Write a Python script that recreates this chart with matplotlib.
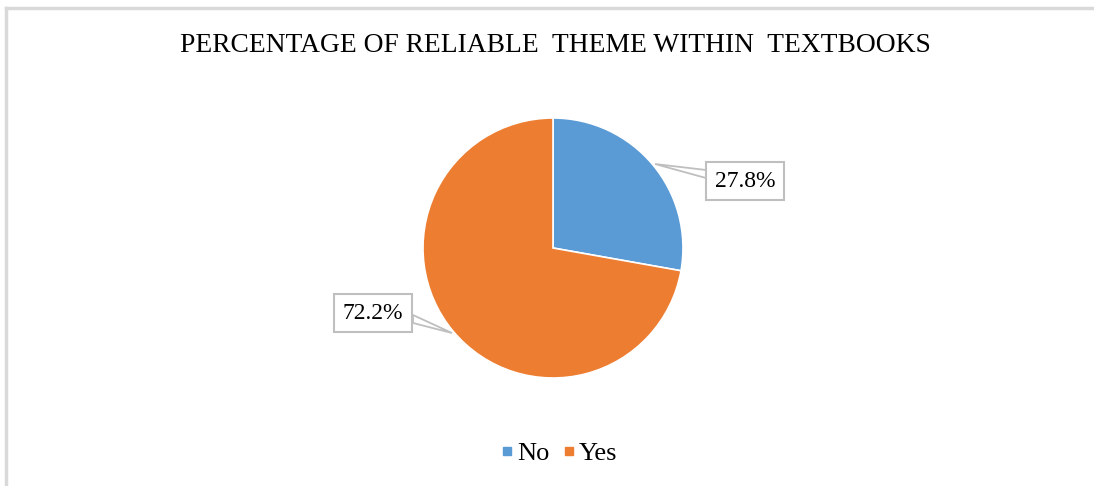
import matplotlib
matplotlib.use('Agg')
import matplotlib.pyplot as plt
from matplotlib.lines import Line2D
from matplotlib.patches import Polygon

labels = ['No', 'Yes']
values = [27.8, 72.2]
colors = ['#5B9BD5', '#ED7D31']
pct_text = ['27.8%', '72.2%']
title = 'PERCENTAGE OF RELIABLE  THEME WITHIN  TEXTBOOKS'

plt.rcParams['font.family'] = ['Liberation Serif', 'DejaVu Serif']

W, H = 1094, 486
fig = plt.figure(figsize=(W / 100, H / 100), dpi=100)

# outer chart frame (cut at right and bottom like the screenshot)
fig.add_artist(Line2D([6 / W, 6 / W], [0, 1 - 8 / H], color='#d9d9d9', lw=2.5))
fig.add_artist(Line2D([6 / W, 1], [1 - 8 / H, 1 - 8 / H], color='#d9d9d9', lw=2.5))

fig.text(555 / W, 1 - 45 / H, title, ha='center', va='center', fontsize=19.8)

# pie axes: radius 1 -> 130 px
cx, cy, r = 553, 248, 130
half = 200
ax = fig.add_axes([(cx - half) / W, (H - cy - half) / H, 2 * half / W, 2 * half / H])

wedges, _ = ax.pie(values, colors=colors, startangle=90, counterclock=False,
                   wedgeprops=dict(edgecolor='white', linewidth=1.2))
ax.set_xlim(-half / r, half / r)
ax.set_ylim(-half / r, half / r)
ax.axis('off')

# label boxes with callouts (pixel positions of box centres / callout points)
box_pos = [(745, 181), (373, 313)]
anchor = [(655, 164), (452, 333)]
callout_base = [[(706, 170), (706, 178)], [(413, 315), (413, 323)]]


def to_data(px, py):
    return ((px - cx) / r, (cy - py) / r)


for i in range(len(values)):
    pts = [to_data(*anchor[i])] + [to_data(*p) for p in callout_base[i]]
    ax.add_patch(Polygon(pts, closed=True, fc='white', ec='#bfbfbf', lw=1.3,
                         zorder=3, clip_on=False))
    bx, by = to_data(*box_pos[i])
    ax.text(bx, by, pct_text[i], ha='center', va='center', fontsize=17, zorder=4,
            bbox=dict(boxstyle='square,pad=0.38', fc='white', ec='#bfbfbf', lw=1.5),
            clip_on=False)

handles = [Line2D([], [], ls='none', marker='s', markersize=6, color=c) for c in colors]
fig.legend(handles, labels, loc='center', bbox_to_anchor=(560 / W, 1 - 453 / H),
           ncol=2, frameon=False, fontsize=19, handlelength=0.35,
           handletextpad=0.2, columnspacing=0.55)

fig.savefig('out.png', dpi=100)
